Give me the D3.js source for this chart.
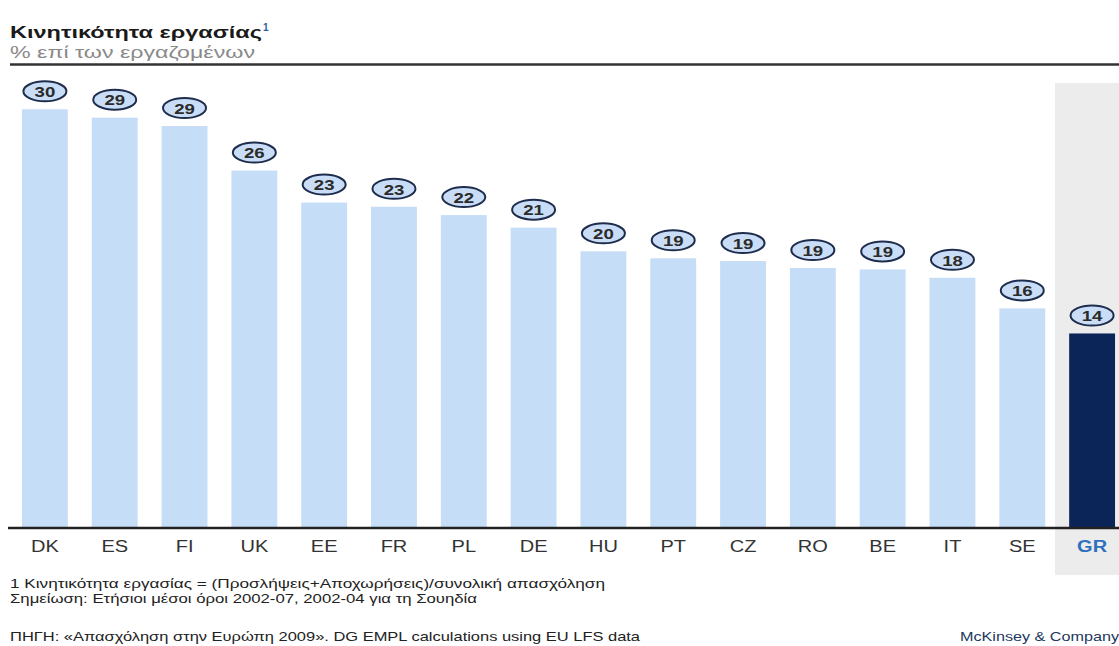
<!DOCTYPE html>
<html>
<head>
<meta charset="utf-8">
<script src="https://cdn.jsdelivr.net/npm/d3@7"></script>
<style>
  html, body { margin: 0; padding: 0; background: #fff; }
  svg { display: block; font-family: "Liberation Sans", Arial, sans-serif; }
</style>
</head>
<body>
<svg id="chart" width="1119" height="646"></svg>
<script>
const countries = ["DK","ES","FI","UK","EE","FR","PL","DE","HU","PT","CZ","RO","BE","IT","SE","GR"];
const values    = [30.0, 29.4, 28.8, 25.6, 23.3, 23.0, 22.4, 21.5, 19.8, 19.3, 19.1, 18.6, 18.5, 17.9, 15.7, 13.9];
const labels    = ["30","29","29","26","23","23","22","21","20","19","19","19","19","18","16","14"];
const highlight = "GR";

const title = "Κινητικότητα εργασίας";
const subtitle = "% επί των εργαζομένων";
const notes = [
  "1 Κινητικότητα εργασίας = (Προσλήψεις+Αποχωρήσεις)/συνολική απασχόληση",
  "Σημείωση: Ετήσιοι μέσοι όροι 2002-07, 2002-04 για τη Σουηδία"
];
const source = "ΠΗΓΗ: «Απασχόληση στην Ευρώπη 2009». DG EMPL calculations using EU LFS data";
const brand = "McKinsey & Company";

const data = countries.map((c, i) => ({c, v: values[i], l: labels[i]}));
const svg = d3.select("#chart");

function fitWidth(sel, w) {
  sel.attr("textLength", w).attr("lengthAdjust", "spacingAndGlyphs");
}
function stretch(sel, f) {
  sel.each(function() {
    const w = this.getComputedTextLength();
    d3.select(this).attr("textLength", w * f).attr("lengthAdjust", "spacingAndGlyphs");
  });
}

const baseY = 527;
const x = d3.scaleBand().domain(countries).range([10, 1127]).paddingInner(0.343).paddingOuter(0.1715);
const y = d3.scaleLinear().domain([0, 30]).range([baseY, 109.3]);

// highlight band
svg.append("rect").attr("x", 1055).attr("y", 83).attr("width", 64).attr("height", 492).attr("fill", "#ececec");

// title
svg.append("text").attr("x", 10).attr("y", 38).attr("font-size", 17).attr("font-weight", "bold").attr("fill", "#1a1a1a")
  .text(title).call(fitWidth, 252);
svg.append("text").attr("x", 263).attr("y", 31).attr("font-size", 10).attr("font-weight", "bold").attr("fill", "#2a5fa8").text("1");
svg.append("text").attr("x", 10).attr("y", 58).attr("font-size", 16).attr("fill", "#8a8a8a")
  .text(subtitle).call(fitWidth, 245);

// top rule
svg.append("line").attr("x1", 10).attr("x2", 1119).attr("y1", 64.5).attr("y2", 64.5).attr("stroke", "#333").attr("stroke-width", 2.5);

// bars
svg.selectAll("rect.bar").data(data).enter().append("rect")
  .attr("class", "bar")
  .attr("x", d => x(d.c)).attr("width", x.bandwidth())
  .attr("y", d => y(d.v)).attr("height", d => baseY - y(d.v))
  .attr("fill", d => d.c === highlight ? "#0b2559" : "#c5ddf7");

// label ellipses
const lab = svg.selectAll("g.lab").data(data).enter().append("g").attr("class", "lab")
  .attr("transform", d => `translate(${x(d.c) + x.bandwidth() / 2},${y(d.v) - 18})`);
lab.append("ellipse").attr("rx", 21.5).attr("ry", 10).attr("fill", "#c9def6").attr("stroke", "#1e2d4d").attr("stroke-width", 2);
lab.append("text").attr("text-anchor", "middle").attr("dy", "0.37em").attr("font-size", 15.5).attr("font-weight", "bold")
  .attr("fill", "#2b2b2b").text(d => d.l).call(stretch, 1.2);

// baseline axis
const axis = d3.axisBottom(x).tickSize(0).tickPadding(14);
const ag = svg.append("g").attr("transform", `translate(0,${baseY})`).call(axis);
ag.select(".domain").remove();
ag.selectAll("text").attr("font-size", 16).attr("font-family", "Liberation Sans, Arial, sans-serif")
  .attr("fill", d => d === highlight ? "#2f6fbf" : "#333")
  .attr("font-weight", d => d === highlight ? "bold" : "normal")
  .call(stretch, 1.25);
svg.append("line").attr("x1", 8).attr("x2", 1119).attr("y1", baseY + 1).attr("y2", baseY + 1).attr("stroke", "#222").attr("stroke-width", 2.5);

// notes
const noteW = [595, 467];
notes.forEach((n, i) => {
  svg.append("text").attr("x", 10).attr("y", 588 + i * 15).attr("font-size", 13).attr("fill", "#222").text(n).call(fitWidth, noteW[i]);
});
svg.append("text").attr("x", 10).attr("y", 641).attr("font-size", 13).attr("fill", "#222").text(source).call(fitWidth, 630);
svg.append("text").attr("x", 1119).attr("y", 641).attr("text-anchor", "end").attr("font-size", 13).attr("fill", "#23395d").text(brand).call(fitWidth, 159);
</script>
</body>
</html>
